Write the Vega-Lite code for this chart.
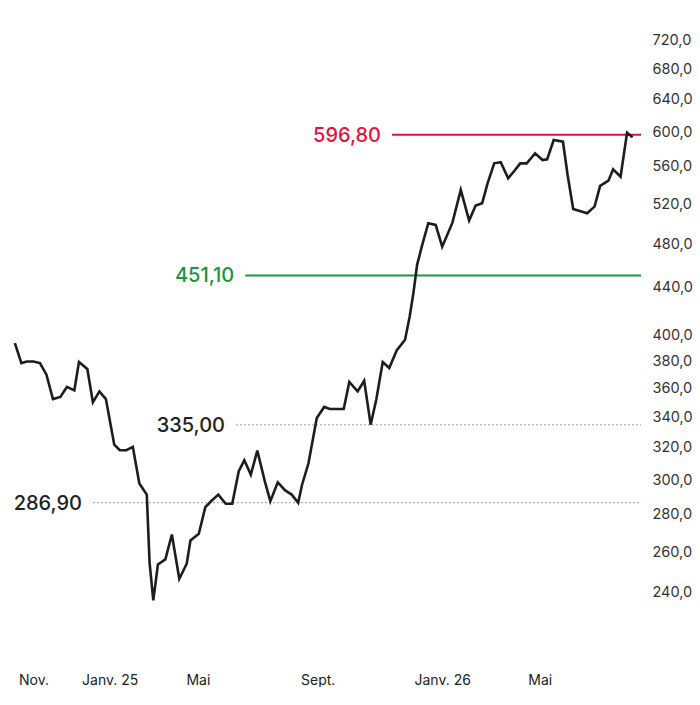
{
  "$schema": "https://vega.github.io/schema/vega-lite/v6.json",
  "width": 641,
  "height": 640,
  "padding": 0,
  "background": "white",
  "datasets": {
    "cours": [
      {"date": "2024-10-18", "cours": 394.3}, {"date": "2024-10-25", "cours": 378.9}, {"date": "2024-10-31", "cours": 380.1},
      {"date": "2024-11-07", "cours": 380.1}, {"date": "2024-11-14", "cours": 378.9}, {"date": "2024-11-21", "cours": 370.2},
      {"date": "2024-11-28", "cours": 352.7}, {"date": "2024-12-06", "cours": 354.2}, {"date": "2024-12-13", "cours": 361.3},
      {"date": "2024-12-21", "cours": 358.8}, {"date": "2024-12-26", "cours": 379.7}, {"date": "2025-01-04", "cours": 374.4},
      {"date": "2025-01-10", "cours": 350.4}, {"date": "2025-01-17", "cours": 358.1}, {"date": "2025-01-24", "cours": 352.7},
      {"date": "2025-02-02", "cours": 322.1}, {"date": "2025-02-08", "cours": 318.5}, {"date": "2025-02-15", "cours": 318.5},
      {"date": "2025-02-22", "cours": 320.6}, {"date": "2025-03-01", "cours": 298.1}, {"date": "2025-03-09", "cours": 291.6},
      {"date": "2025-03-12", "cours": 254.7}, {"date": "2025-03-16", "cours": 236.2}, {"date": "2025-03-21", "cours": 253.7},
      {"date": "2025-03-29", "cours": 256.3}, {"date": "2025-04-05", "cours": 269.3}, {"date": "2025-04-13", "cours": 246.6},
      {"date": "2025-04-21", "cours": 254.1}, {"date": "2025-04-25", "cours": 266.1}, {"date": "2025-05-04", "cours": 269.7},
      {"date": "2025-05-11", "cours": 284.4}, {"date": "2025-05-18", "cours": 288.2}, {"date": "2025-05-25", "cours": 291.6},
      {"date": "2025-06-02", "cours": 286.3}, {"date": "2025-06-09", "cours": 286.3}, {"date": "2025-06-16", "cours": 305.5},
      {"date": "2025-06-22", "cours": 312.2}, {"date": "2025-06-29", "cours": 303.4}, {"date": "2025-07-06", "cours": 318.3},
      {"date": "2025-07-14", "cours": 299.5}, {"date": "2025-07-20", "cours": 287.8}, {"date": "2025-07-28", "cours": 298.8},
      {"date": "2025-08-05", "cours": 294.0}, {"date": "2025-08-12", "cours": 291.6}, {"date": "2025-08-19", "cours": 286.9},
      {"date": "2025-08-23", "cours": 297.1}, {"date": "2025-08-30", "cours": 310.2}, {"date": "2025-09-08", "cours": 339.6},
      {"date": "2025-09-16", "cours": 347.2}, {"date": "2025-09-22", "cours": 345.8}, {"date": "2025-09-29", "cours": 345.8},
      {"date": "2025-10-07", "cours": 345.8}, {"date": "2025-10-13", "cours": 364.9}, {"date": "2025-10-22", "cours": 358.1},
      {"date": "2025-10-29", "cours": 365.8}, {"date": "2025-11-05", "cours": 335.2}, {"date": "2025-11-11", "cours": 352.2},
      {"date": "2025-11-18", "cours": 379.7}, {"date": "2025-11-25", "cours": 375.2}, {"date": "2025-12-03", "cours": 388.5},
      {"date": "2025-12-12", "cours": 396.9}, {"date": "2025-12-17", "cours": 415.7}, {"date": "2025-12-21", "cours": 435.5},
      {"date": "2025-12-25", "cours": 460.7}, {"date": "2025-12-30", "cours": 477.7}, {"date": "2026-01-06", "cours": 500.5},
      {"date": "2026-01-14", "cours": 498.8}, {"date": "2026-01-21", "cours": 477.7}, {"date": "2026-02-01", "cours": 501.1},
      {"date": "2026-02-10", "cours": 534.8}, {"date": "2026-02-19", "cours": 503.1}, {"date": "2026-02-26", "cours": 518.4},
      {"date": "2026-03-05", "cours": 520.8}, {"date": "2026-03-11", "cours": 542.3}, {"date": "2026-03-18", "cours": 563.9},
      {"date": "2026-03-25", "cours": 565.1}, {"date": "2026-04-02", "cours": 547.4}, {"date": "2026-04-09", "cours": 555.9},
      {"date": "2026-04-15", "cours": 563.9}, {"date": "2026-04-22", "cours": 563.9}, {"date": "2026-05-01", "cours": 575.3},
      {"date": "2026-05-09", "cours": 567.6}, {"date": "2026-05-14", "cours": 568.4}, {"date": "2026-05-21", "cours": 590.7},
      {"date": "2026-05-31", "cours": 588.7}, {"date": "2026-06-05", "cours": 550.9}, {"date": "2026-06-11", "cours": 515.0},
      {"date": "2026-06-18", "cours": 512.9}, {"date": "2026-06-26", "cours": 510.6}, {"date": "2026-07-04", "cours": 517.3},
      {"date": "2026-07-10", "cours": 539.1}, {"date": "2026-07-19", "cours": 544.8}, {"date": "2026-07-24", "cours": 557.2},
      {"date": "2026-08-01", "cours": 549.1}, {"date": "2026-08-08", "cours": 599.3}, {"date": "2026-08-14", "cours": 593.9}
    ],
    "niveaux": [
      {"niveau": 596.8, "debut": "2025-11-28", "type": "plus haut"},
      {"niveau": 451.1, "debut": "2025-06-23", "type": "soutien"},
      {"niveau": 335.0, "debut": "2025-06-13", "type": "repère"},
      {"niveau": 286.9, "debut": "2025-01-10", "type": "repère"}
    ]
  },
  "layer": [
    {
      "data": {"name": "niveaux"},
      "mark": {"type": "rule"},
      "encoding": {
        "x": {"field": "debut", "type": "temporal", "title": null},
        "x2": {"datum": {"year": 2026, "month": 8, "date": 23}},
        "y": {"field": "niveau", "type": "quantitative", "title": null},
        "color": {
          "condition": [
            {"test": "datum.type === 'plus haut'", "value": "#e2133f"},
            {"test": "datum.type === 'soutien'", "value": "#1b9440"}
          ],
          "value": "#9a9a9a"
        },
        "strokeWidth": {"condition": {"test": "datum.type === 'repère'", "value": 1}, "value": 2},
        "strokeDash": {"condition": {"test": "datum.type === 'repère'", "value": [2, 2]}, "value": [1, 0]}
      }
    },
    {
      "data": {"name": "niveaux"},
      "mark": {"type": "text", "align": "right", "baseline": "middle", "dx": -11, "dy": 1, "fontSize": 20, "fontWeight": 500},
      "encoding": {
        "x": {"field": "debut", "type": "temporal", "title": null},
        "y": {"field": "niveau", "type": "quantitative", "title": null},
        "text": {"field": "niveau", "type": "quantitative", "format": ".2f"},
        "color": {
          "condition": [
            {"test": "datum.type === 'plus haut'", "value": "#e2133f"},
            {"test": "datum.type === 'soutien'", "value": "#1b9440"}
          ],
          "value": "#222222"
        }
      }
    },
    {
      "data": {"name": "cours"},
      "mark": {"type": "line", "color": "#1d1d1b", "strokeWidth": 2.6},
      "encoding": {
        "x": {
          "field": "date",
          "type": "temporal",
          "title": null,
          "scale": {"domain": [{"year": 2024, "month": 10, "date": 2}, {"year": 2026, "month": 8, "date": 23}]},
          "axis": {
            "orient": "bottom",
            "values": [
              {"year": 2024, "month": 11, "date": 7},
              {"year": 2025, "month": 1, "date": 28},
              {"year": 2025, "month": 5, "date": 3},
              {"year": 2025, "month": 9, "date": 9},
              {"year": 2026, "month": 1, "date": 21},
              {"year": 2026, "month": 5, "date": 6}
            ],
            "labelExpr": "['Janv.','Févr.','Mars','Avr.','Mai','Juin','Juil.','Août','Sept.','Oct.','Nov.','Déc.'][month(datum.value)] + (month(datum.value) == 0 ? ' ' + timeFormat(datum.value, '%y') : '')",
            "labelPadding": 33,
            "labelFontSize": 14,
            "labelColor": "#222222"
          }
        },
        "y": {
          "field": "cours",
          "type": "quantitative",
          "title": null,
          "scale": {"type": "log", "domain": [218.3, 780.6], "nice": false},
          "axis": {
            "orient": "right",
            "values": [240, 260, 280, 300, 320, 340, 360, 380, 400, 440, 480, 520, 560, 600, 640, 680, 720],
            "format": ".1f",
            "labelPadding": 11,
            "labelAlign": "left",
            "labelFontSize": 14.5,
            "labelColor": "#333333"
          }
        }
      }
    }
  ],
  "config": {
    "view": {"stroke": null},
    "font": "Inter",
    "axis": {"domain": false, "ticks": false, "grid": false, "labelFont": "Inter", "labelFontWeight": 400},
    "locale": {
      "number": {"decimal": ",", "thousands": " ", "grouping": [3], "currency": ["", " €"]}
    }
  }
}
